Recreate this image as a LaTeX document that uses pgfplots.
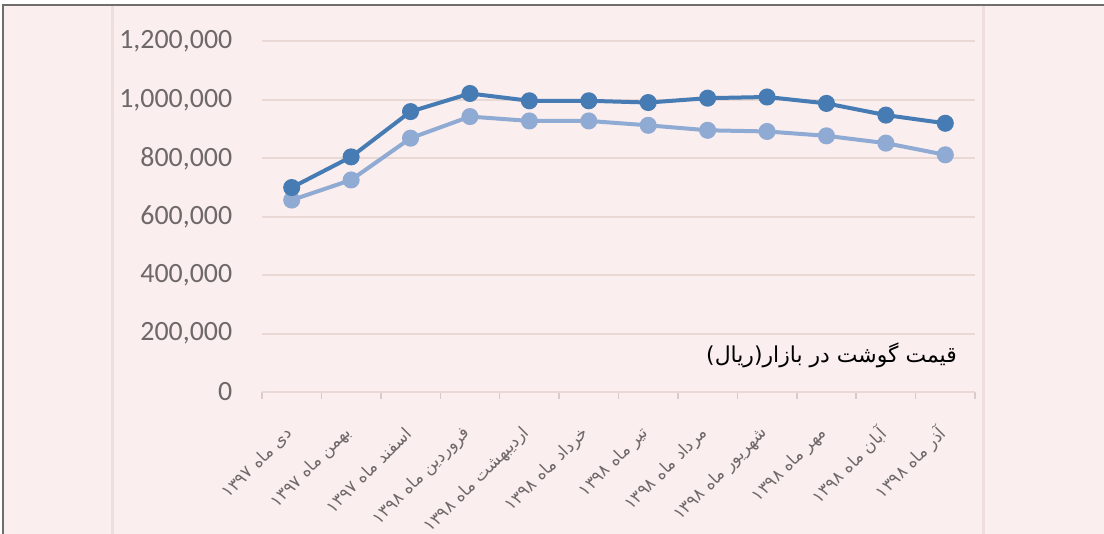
\documentclass[border=0pt]{standalone}
\usepackage{pgfplots}
\pgfplotsset{compat=1.18}
\usepackage{fontspec}
\setmainfont{Carlito}
\newfontfamily\arabicfont[Script=Arabic]{DejaVu Sans}
\TeXXeTstate=1
\definecolor{bg}{RGB}{250,238,238}
\definecolor{panel}{RGB}{238,222,222}
\definecolor{gridc}{RGB}{234,216,212}
\definecolor{axisc}{RGB}{218,202,200}
\definecolor{darkb}{RGB}{70,123,180}
\definecolor{lightb}{RGB}{143,171,212}
\definecolor{tickc}{RGB}{110,104,104}
\definecolor{framec}{RGB}{110,110,110}
\begin{document}
\begin{tikzpicture}
\useasboundingbox (0bp,0bp) rectangle (1104bp,534bp);
\fill[white] (0bp,0bp) rectangle (1104bp,534bp);
\fill[bg] (3bp,0bp) rectangle (1104bp,529bp);
\draw[panel, line width=3bp] (112bp,0bp) -- (112bp,529bp);
\draw[panel, line width=3bp] (983bp,0bp) -- (983bp,529bp);
\draw[framec, line width=2bp] (3bp,0bp) -- (3bp,529bp) -- (1104bp,529bp);
\begin{axis}[
  at={(262bp,142bp)}, anchor=south west,
  scale only axis, width=713bp, height=350.5bp,
  xmin=-0.5, xmax=11.5, ymin=0, ymax=1200000,
  clip=false,
  axis line style={draw=none},
  ytick={200000,400000,600000,800000,1000000,1200000},
  extra y ticks={0},
  extra y tick style={grid style={axisc, line width=2bp}},
  ymajorgrids,
  major grid style={gridc, line width=2bp},
  ytick style={draw=none},
  scaled y ticks=false,
  yticklabel style={font=\fontsize{28}{30}\selectfont, text=tickc, xshift=-22bp},
  xtick={0,...,11},
  major x tick style={draw=none},
  minor xtick={-0.5,0.5,...,11.5},
  minor x tick style={draw=axisc, line width=1.5bp},
  tick align=outside, tick pos=left,
  minor tick length=7bp,
  xticklabel style={font=\fontsize{17}{19}\selectfont, text=tickc, yshift=-32bp, rotate=45, anchor=east},
  xticklabels={
    {\arabicfont\beginR دی ماه \beginL۱۳۹۷\endL\endR},
    {\arabicfont\beginR بهمن ماه \beginL۱۳۹۷\endL\endR},
    {\arabicfont\beginR اسفند ماه \beginL۱۳۹۷\endL\endR},
    {\arabicfont\beginR فروردین ماه \beginL۱۳۹۸\endL\endR},
    {\arabicfont\beginR اردیبهشت ماه \beginL۱۳۹۸\endL\endR},
    {\arabicfont\beginR خرداد ماه \beginL۱۳۹۸\endL\endR},
    {\arabicfont\beginR تیر ماه \beginL۱۳۹۸\endL\endR},
    {\arabicfont\beginR مرداد ماه \beginL۱۳۹۸\endL\endR},
    {\arabicfont\beginR شهریور ماه \beginL۱۳۹۸\endL\endR},
    {\arabicfont\beginR مهر ماه \beginL۱۳۹۸\endL\endR},
    {\arabicfont\beginR آبان ماه \beginL۱۳۹۸\endL\endR},
    {\arabicfont\beginR آذر ماه \beginL۱۳۹۸\endL\endR}},
  /pgf/number format/.cd, fixed, 1000 sep={,}, assume math mode=true
]
\addplot[lightb, line width=4bp, mark=*, mark size=6.5bp, mark options={fill=lightb, draw=lightb}] coordinates {
(0,657000) (1,726000) (2,869000) (3,943000) (4,928000) (5,928000)
(6,913000) (7,896000) (8,892000) (9,877000) (10,852000) (11,812000)};
\addplot[darkb, line width=4bp, mark=*, mark size=6.5bp, mark options={fill=darkb, draw=darkb}] coordinates {
(0,700000) (1,805000) (2,960000) (3,1022000) (4,997000) (5,997000)
(6,991000) (7,1006000) (8,1010000) (9,988000) (10,948000) (11,920000)};
\end{axis}
\node[anchor=east, font=\fontsize{22}{26}\selectfont, text=black, inner sep=0pt] at (957bp,179bp) {\arabicfont\beginR قیمت گوشت در بازار(ریال)\endR};
\end{tikzpicture}
\end{document}
